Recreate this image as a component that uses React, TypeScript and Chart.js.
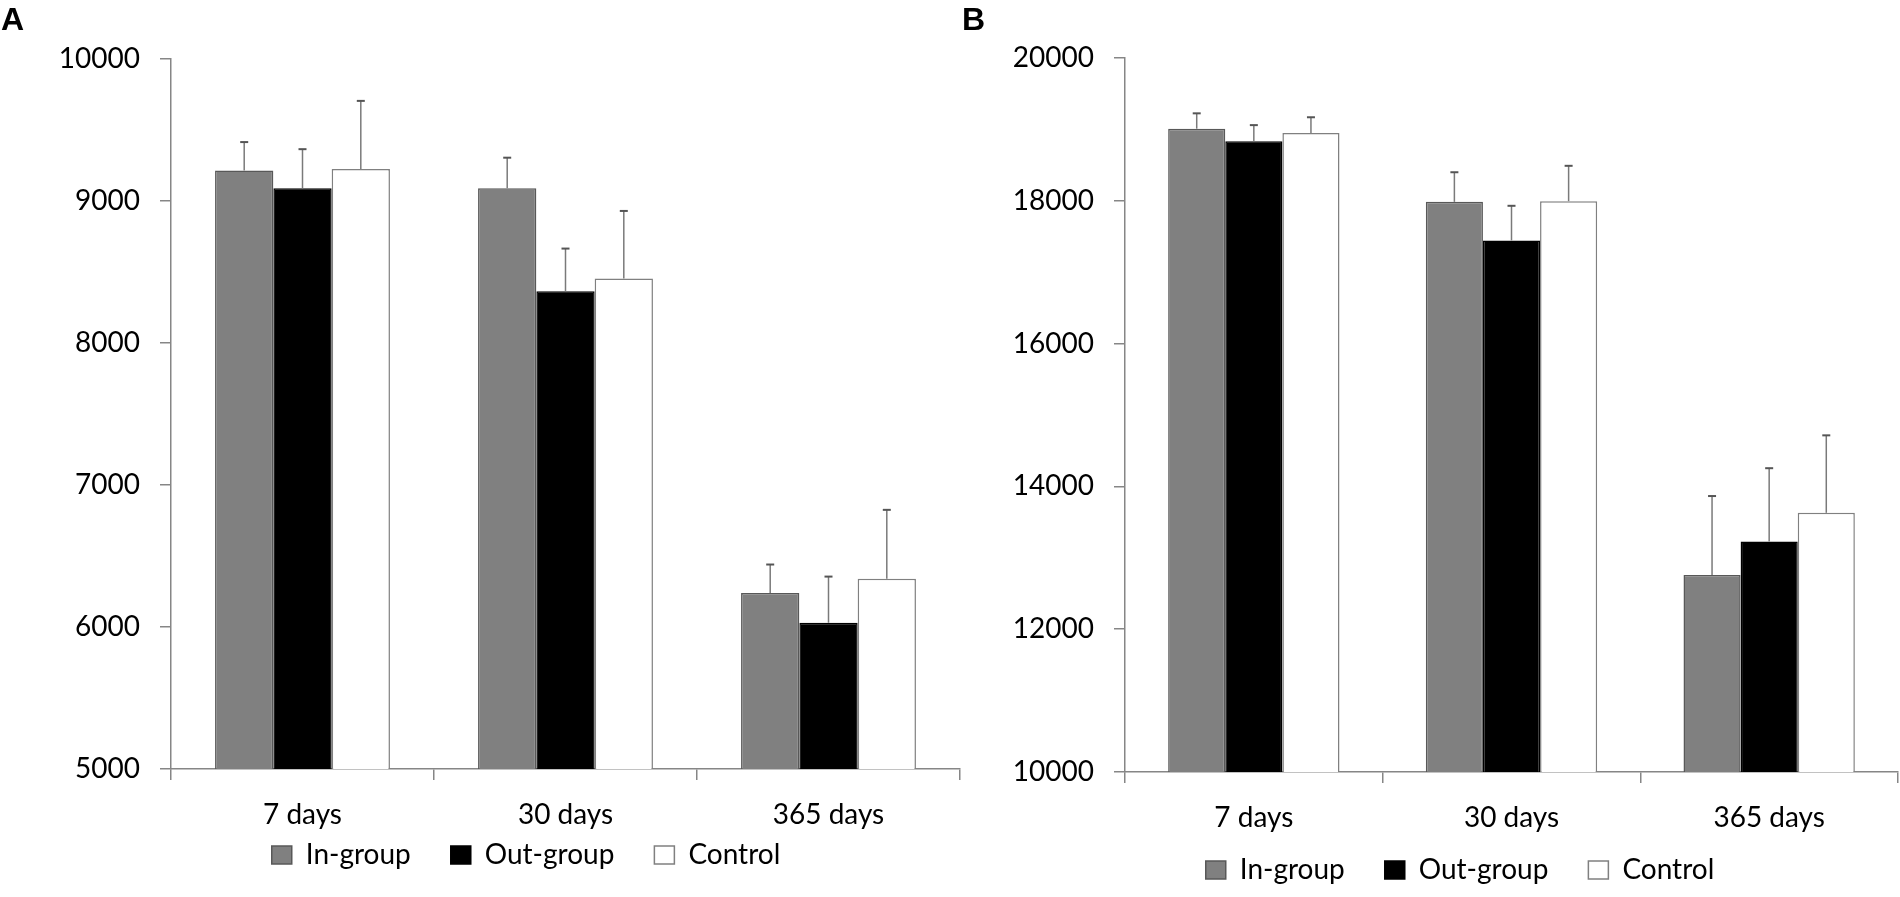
import React, { useEffect, useRef } from "react";
import { Chart, registerables } from "chart.js";

Chart.register(...registerables);

const categories = ["7 days", "30 days", "365 days"];
const seriesNames = ["In-group", "Out-group", "Control"];

// Panel A
const aInGroup = [9215, 9090, 6240];
const aInGroupErr = [200, 215, 200];
const aOutGroup = [9090, 8365, 6030];
const aOutGroupErr = [275, 300, 325];
const aControl = [9225, 8455, 6340];
const aControlErr = [480, 475, 485];
const aYMin = 5000;
const aYMax = 10000;
const aYStep = 1000;

// Panel B
const bInGroup = [19010, 17985, 12760];
const bInGroupErr = [215, 415, 1105];
const bOutGroup = [18835, 17445, 13230];
const bOutGroupErr = [225, 485, 1025];
const bControl = [18950, 17995, 13630];
const bControlErr = [220, 495, 1085];
const bYMin = 10000;
const bYMax = 20000;
const bYStep = 2000;

const fills = ["#808080", "#000000", "#ffffff"];
const borders = ["#585858", "#000000", "#808080"];
const AXIS = "#868686";
const FONT = "Lato, 'Open Sans', sans-serif";

const errorBarPlugin = {
  id: "errorBars",
  afterDatasetsDraw(chart: any) {
    const ctx = chart.ctx;
    const yScale = chart.scales.y;
    chart.data.datasets.forEach((ds: any, i: number) => {
      const meta = chart.getDatasetMeta(i);
      const errs: number[] = ds.errors || [];
      meta.data.forEach((bar: any, j: number) => {
        const v = ds.data[j];
        const e = errs[j] || 0;
        const x = bar.x;
        const y0 = yScale.getPixelForValue(v);
        const y1 = yScale.getPixelForValue(v + e);
        ctx.save();
        ctx.strokeStyle = "#7a7a7a";
        ctx.lineWidth = 1.5;
        ctx.beginPath();
        ctx.moveTo(x, y0);
        ctx.lineTo(x, y1);
        ctx.stroke();
        ctx.strokeStyle = "#555555";
        ctx.lineWidth = 2;
        ctx.beginPath();
        ctx.moveTo(x - 4, y1);
        ctx.lineTo(x + 4, y1);
        ctx.stroke();
        ctx.restore();
      });
    });
  },
};

type PanelProps = {
  left: number;
  width: number;
  padding: { left: number; right: number; top: number; bottom: number };
  yWidth: number;
  rightWidth: number;
  xHeight: number;
  yPad: number;
  values: number[][];
  errors: number[][];
  yMin: number;
  yMax: number;
  yStep: number;
};

function Panel(p: PanelProps) {
  const ref = useRef<HTMLCanvasElement | null>(null);
  useEffect(() => {
    if (!ref.current) return;
    const chart = new Chart(ref.current, {
      type: "bar",
      data: {
        labels: categories,
        datasets: seriesNames.map((name, i) => ({
          label: name,
          data: p.values[i],
          errors: p.errors[i],
          backgroundColor: fills[i],
          borderColor: borders[i],
          borderWidth: 1.5,
          categoryPercentage: 0.665,
          barPercentage: 1.0,
          xAxisID: "x",
          yAxisID: "y",
        })) as any,
      },
      options: {
        responsive: false,
        animation: false,
        devicePixelRatio: 1,
        layout: { padding: p.padding, autoPadding: false } as any,
        plugins: {
          legend: {
            position: "bottom",
            labels: {
              boxWidth: 20,
              boxHeight: 18,
              padding: 40,
              color: "#000",
              font: { family: FONT, size: 28 },
            },
          },
          tooltip: { enabled: false },
          title: { display: false },
        },
        scales: {
          x: {
            afterFit: (s: any) => {
              s.height = p.xHeight;
            },
            grid: {
              offset: true,
              drawOnChartArea: false,
              drawTicks: true,
              tickLength: 11,
              color: AXIS,
              lineWidth: 1.5,
            },
            border: { display: true, color: AXIS, width: 1.5 },
            ticks: {
              color: "#000",
              mirror: true,
              padding: -62.6,
              font: { family: FONT, size: 28 },
              maxRotation: 0,
              autoSkip: false,
            },
          },
          y: {
            position: "left",
            min: p.yMin,
            max: p.yMax,
            afterFit: (s: any) => {
              s.width = p.yWidth;
            },
            grid: {
              drawOnChartArea: false,
              drawTicks: true,
              tickLength: 11,
              color: AXIS,
              lineWidth: 1.5,
            },
            border: { display: true, color: AXIS, width: 1.5 },
            ticks: {
              stepSize: p.yStep,
              color: "#000",
              padding: p.yPad,
              font: { family: FONT, size: 28 },
              callback: (v: any) => String(v),
            },
          },
          yRight: {
            type: "linear",
            position: "right",
            display: true,
            afterFit: (s: any) => {
              s.width = p.rightWidth;
            },
            grid: { display: false },
            border: { display: false },
            ticks: { display: false },
          },
        },
      } as any,
      plugins: [errorBarPlugin],
    });
    return () => chart.destroy();
  }, []);
  return (
    <canvas
      ref={ref}
      width={p.width}
      height={897}
      style={{
        position: "absolute",
        left: p.left + "px",
        top: "0px",
        width: p.width + "px",
        height: "897px",
      }}
    />
  );
}

const labelStyle: React.CSSProperties = {
  position: "absolute",
  top: "3px",
  fontFamily: "'Liberation Sans', Arial, sans-serif",
  fontWeight: 700,
  fontSize: "32px",
  lineHeight: 1,
  color: "#000",
};

export default function App() {
  return (
    <div
      style={{
        position: "absolute",
        left: 0,
        top: 0,
        width: "1900px",
        height: "897px",
        background: "#fff",
        overflow: "hidden",
      }}
    >
      <Panel
        left={0}
        width={1012}
        padding={{ left: 40, right: 0, top: 59, bottom: 18 }}
        yWidth={131}
        rightWidth={52}
        xHeight={32}
        yPad={20}
        values={[aInGroup, aOutGroup, aControl]}
        errors={[aInGroupErr, aOutGroupErr, aControlErr]}
        yMin={aYMin}
        yMax={aYMax}
        yStep={aYStep}
      />
      <Panel
        left={1000}
        width={920}
        padding={{ left: 0, right: 0, top: 58, bottom: 3 }}
        yWidth={125}
        rightWidth={22}
        xHeight={44}
        yPad={20}
        values={[bInGroup, bOutGroup, bControl]}
        errors={[bInGroupErr, bOutGroupErr, bControlErr]}
        yMin={bYMin}
        yMax={bYMax}
        yStep={bYStep}
      />
      <div style={{ ...labelStyle, left: "1px" }}>A</div>
      <div style={{ ...labelStyle, left: "962px" }}>B</div>
    </div>
  );
}
